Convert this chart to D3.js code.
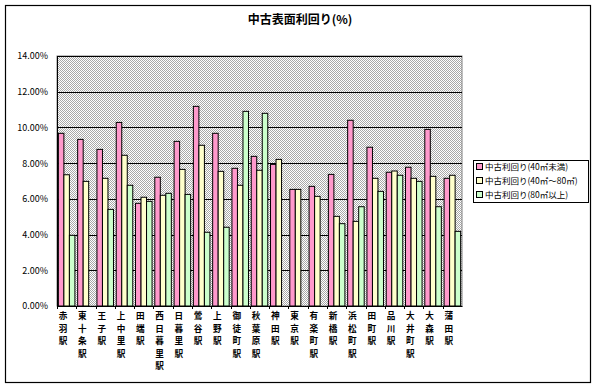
<!DOCTYPE html>
<html><head><meta charset="utf-8">
<script src="https://cdn.jsdelivr.net/npm/d3@7"></script>
<style>body{margin:0;background:#fff;} svg{display:block;}</style>
</head><body>
<svg id="c" width="599" height="388"></svg>
<script>
const stations = ["赤羽駅","東十条駅","王子駅","上中里駅","田端駅","西日暮里駅","日暮里駅","鶯谷駅","上野駅","御徒町駅","秋葉原駅","神田駅","東京駅","有楽町駅","新橋駅","浜松町駅","田町駅","品川駅","大井町駅","大森駅","蒲田駅"];
const seriesNames = ["中古利回り(40㎡未満)","中古利回り(40㎡～80㎡)","中古利回り(80㎡以上)"];
const small = [9.67,9.33,8.77,10.28,5.75,7.21,9.22,11.18,9.67,7.71,8.38,7.93,6.53,6.70,7.37,10.40,8.89,7.49,7.77,9.89,7.15];
const mid   = [7.35,6.98,7.15,8.44,6.09,6.20,7.65,9.00,7.54,6.76,7.60,8.21,6.53,6.14,5.02,4.74,7.15,7.56,7.15,7.26,7.32];
const large = [3.96,null,5.41,6.76,5.86,6.31,6.25,4.13,4.41,10.90,10.79,null,null,null,4.61,5.56,6.42,7.32,6.98,5.56,4.18];
const yTicks = [0,2,4,6,8,10,12,14];
const colors = ["#FF99CC","#FFFFCC","#CCFFCC"];
const title = "中古表面利回り(%)";

const svg = d3.select("#c");
const font = "'Noto Sans CJK JP', sans-serif";

// outer border
svg.append("rect").attr("x",5.5).attr("y",5.5).attr("width",585).attr("height",377)
  .attr("fill","#fff").attr("stroke","#000").attr("stroke-width",1.2);

// pattern
const defs = svg.append("defs");
const pat = defs.append("pattern").attr("id","chk").attr("width",2).attr("height",2).attr("patternUnits","userSpaceOnUse");
pat.append("rect").attr("width",2).attr("height",2).attr("fill","#ffffff");
pat.append("rect").attr("width",1).attr("height",1).attr("fill","#a8a8a8");
pat.append("rect").attr("x",1).attr("y",1).attr("width",1).attr("height",1).attr("fill","#a8a8a8");

const L = 57, R = 462, T = 56, B = 306;
const x = d3.scaleBand().domain(stations).range([L,R]).paddingInner(0).paddingOuter(0);
const xs = d3.scaleBand().domain([0,1,2]).range([0, x.bandwidth()]).paddingInner(0).paddingOuter(0.25);
const y = d3.scaleLinear().domain([0,14]).range([B,T]);

svg.append("rect").attr("x",L).attr("y",T).attr("width",R-L).attr("height",B-T)
  .attr("fill","url(#chk)").attr("stroke","#808080").attr("stroke-width",1);

// gridlines
svg.append("g").selectAll("line").data(yTicks.filter(d=>d>0)).join("line")
  .attr("x1",L).attr("x2",R).attr("y1",d=>Math.round(y(d))+0.5).attr("y2",d=>Math.round(y(d))+0.5)
  .attr("stroke","#000").attr("stroke-width",1);

// bars
const series = [small, mid, large];
series.forEach((vals, si) => {
  svg.append("g").selectAll("rect").data(stations.map((s,i)=>({s, v: vals[i]})).filter(d=>d.v!=null)).join("rect")
    .attr("x", d => x(d.s) + xs(si))
    .attr("y", d => y(d.v))
    .attr("width", xs.bandwidth())
    .attr("height", d => y(0) - y(d.v))
    .attr("fill", colors[si]).attr("stroke","#000").attr("stroke-width",1);
});

// y axis
const yAxis = d3.axisLeft(y).tickValues(yTicks).tickSize(0).tickPadding(9).tickFormat(d=>d3.format(".2f")(d)+"%");
const gy = svg.append("g").attr("transform",`translate(${L},0)`).call(yAxis);
gy.select(".domain").attr("stroke","#000");
gy.selectAll("text").attr("font-family",font).attr("font-size","9px").attr("fill","#000");

// x axis line and ticks
const xAxis = d3.axisBottom(x).tickSize(0).tickFormat("");
const gx = svg.append("g").attr("transform",`translate(0,${B})`).call(xAxis);
gx.select(".domain").attr("stroke","#000");
svg.append("g").selectAll("line").data(stations).join("line")
  .attr("x1",d=>Math.round(x(d))+0.5).attr("x2",d=>Math.round(x(d))+0.5)
  .attr("y1",B).attr("y2",B+3).attr("stroke","#000");

// x labels (vertical stacked, one text per character)
const chars = [];
stations.forEach(s => Array.from(s).forEach((ch,i) => chars.push({s, ch, i})));
svg.append("g").selectAll("text").data(chars).join("text")
  .attr("font-family",font).attr("font-size","8.6px").attr("font-weight","bold").attr("text-anchor","middle")
  .attr("fill","#000")
  .attr("x", d => x(d.s) + x.bandwidth()/2 - 3.5)
  .attr("y", d => 319 + d.i*12.6)
  .text(d => d.ch);

// title
svg.append("text").attr("x",300).attr("y",24).attr("text-anchor","middle")
  .attr("font-family",font).attr("font-size","12px").attr("font-weight","bold").text(title);

// legend
const lg = svg.append("g");
lg.append("rect").attr("x",473.5).attr("y",160.5).attr("width",115).attr("height",42)
  .attr("fill","#fff").attr("stroke","#000");
seriesNames.forEach((n,i)=>{
  const cy = 167 + i*14;
  lg.append("rect").attr("x",476.5).attr("y",cy-3.5).attr("width",6).attr("height",6)
    .attr("fill",colors[i]).attr("stroke","#000");
  lg.append("text").attr("x",485).attr("y",cy+3).attr("font-family",font).attr("font-size","8.5px")
    .attr("fill","#000").text(n);
});
</script>
</body></html>
